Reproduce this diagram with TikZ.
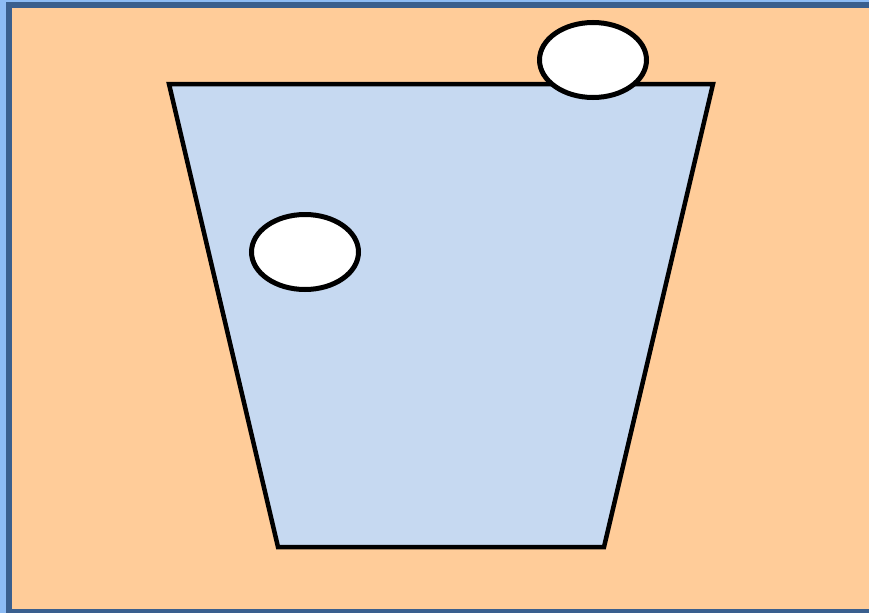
\documentclass[tikz,border=0pt]{standalone}
\definecolor{outerblue}{HTML}{8DBCF5}
\definecolor{frameblue}{HTML}{3A5F8E}
\definecolor{peach}{HTML}{FFCC99}
\definecolor{cupblue}{HTML}{C6D9F1}
\begin{document}
\begin{tikzpicture}[x=1pt,y=-1pt,
  outline/.style={draw=black,line width=4.5pt,line join=miter},
  bubble/.style={outline,line width=5pt,fill=white}]
\useasboundingbox (0,0) rectangle (869,613);
% frame
\fill[outerblue] (0,0) rectangle (869,613);
\fill[frameblue] (6,2) rectangle (869,613);
\fill[peach] (12,8) rectangle (869,609);
% cup
\draw[outline,fill=cupblue] (169,84) -- (713,84) -- (604,547) -- (278,547) -- cycle;
% bubbles
\draw[bubble] (305,252) ellipse [x radius=53.5,y radius=37.5];
\draw[bubble] (593,60) ellipse [x radius=53.5,y radius=37.5];
\end{tikzpicture}
\end{document}
